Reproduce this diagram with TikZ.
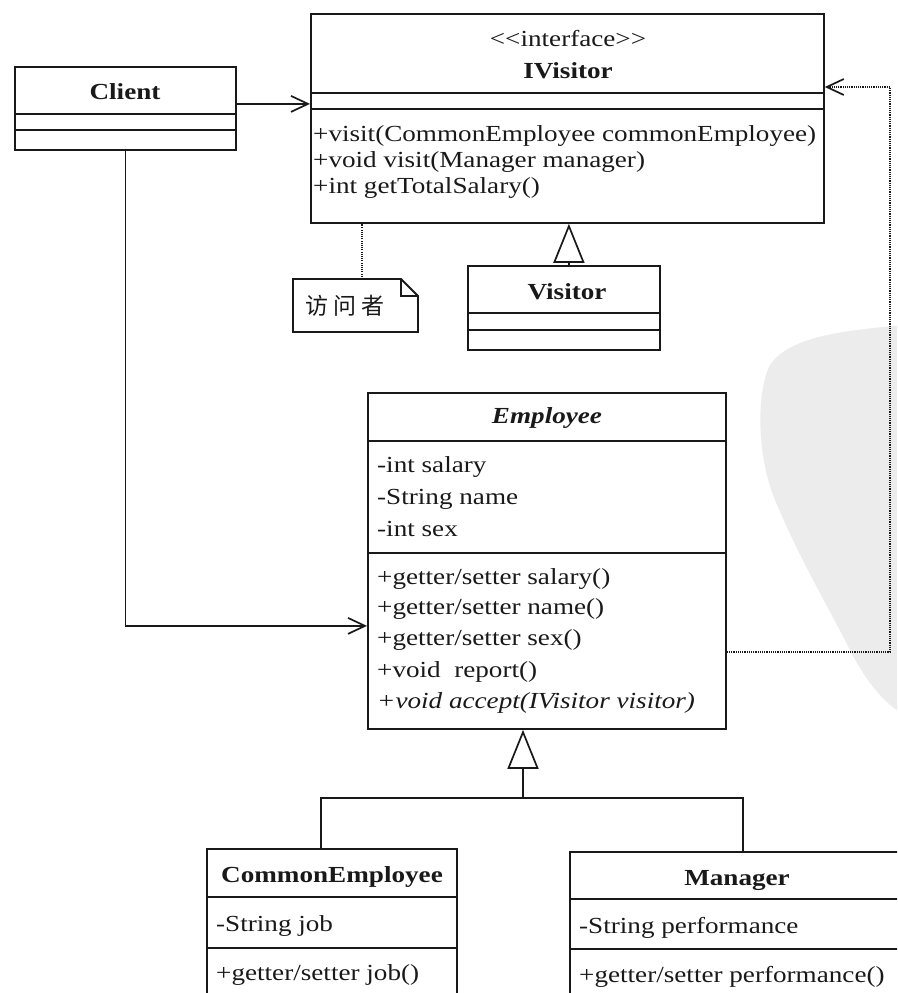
\documentclass[tikz,border=0pt]{standalone}
\usepackage{fontspec}
\setmainfont[FakeStretch=1.18]{Liberation Serif}
\newfontfamily\cjk{Noto Sans CJK SC}
\usetikzlibrary{arrows.meta}
\definecolor{wmark}{RGB}{236,236,237}
\definecolor{ink}{RGB}{25,25,25}
\tikzset{
  box/.style={draw=ink, line width=1.8pt, anchor=north west, inner sep=0pt},
  sepl/.style={draw=ink, line width=1.8pt},
  txt/.style={anchor=base west, inner sep=0pt, text=ink, font=\fontsize{23}{26}\selectfont},
  ttl/.style={anchor=base, inner sep=0pt, text=ink, font=\fontsize{23}{26}\selectfont\bfseries},
  assoc/.style={draw=ink, line width=1.7pt, -{Straight Barb[length=17pt,width=16pt,line width=1.7pt]}},
  depend/.style={draw=ink, line width=1.6pt, dash pattern=on 1.1pt off 1.1pt, -{Straight Barb[length=17pt,width=16pt,line width=1.7pt,sep=0pt]}},
  inherit/.style={draw=ink, line width=1.7pt, -{Triangle[open,length=39pt,width=31pt,line width=1.7pt,fill=white]}},
  noteline/.style={draw=ink, line width=1.5pt, dash pattern=on 1.1pt off 1.1pt}
}
\begin{document}
\begin{tikzpicture}[x=1pt,y=-1pt]
\useasboundingbox (0,0) rectangle (897,993);
\begin{scope}
\clip (0,0) rectangle (897,993);
% watermark blob
\fill[wmark] (905,325) .. controls (850,330) and (790,335) .. (770,365)
  .. controls (755,395) and (758,460) .. (775,500)
  .. controls (800,560) and (830,610) .. (850,650)
  .. controls (865,680) and (885,705) .. (905,715) -- cycle;

% ---- Client
\node[box, minimum width=221pt, minimum height=83pt] (client) at (14,66) {};
\draw[sepl] (client.west |- 0,114) -- (client.east |- 0,114);
\draw[sepl] (client.west |- 0,130) -- (client.east |- 0,130);
\node[ttl] (clientT) at (125,99) {Client};

% ---- IVisitor
\node[box, minimum width=513pt, minimum height=209pt] (ivis) at (310,13) {};
\draw[sepl] (ivis.west |- 0,93) -- (ivis.east |- 0,93);
\draw[sepl] (ivis.west |- 0,109) -- (ivis.east |- 0,109);
\node[ttl, font=\fontsize{23}{26}\selectfont] (ivisS) at (568,46) {<\kern0pt<interface>\kern0pt>};
\node[ttl] (ivisT) at (568,78) {IVisitor};
\node[txt] (ivm1) at (313,141) {+visit(CommonEmployee commonEmployee)};
\node[txt] (ivm2) at (313,167) {+void visit(Manager manager)};
\node[txt] (ivm3) at (313,193) {+int getTotalSalary()};

% ---- Visitor
\node[box, minimum width=192pt, minimum height=84pt] (vis) at (467,265) {};
\draw[sepl] (vis.west |- 0,313) -- (vis.east |- 0,313);
\draw[sepl] (vis.west |- 0,330) -- (vis.east |- 0,330);
\node[ttl] (visT) at (567,299) {Visitor};

% ---- Note
\coordinate (note) at (355.5,279);
\draw[draw=ink, line width=1.8pt, fill=white] (293,279) -- (401,279) -- (418,296) -- (418,332) -- (293,332) -- cycle;
\draw[draw=ink, line width=1.5pt] (401,279) -- (401,296) -- (418,296);
\node[inner sep=0pt, text=ink, font=\cjk\fontsize{23}{26}\selectfont] (noteT) at (345,306) {访\hspace{5pt}问\hspace{5pt}者};

% ---- Employee
\node[box, minimum width=358pt, minimum height=336pt] (emp) at (367,392) {};
\draw[sepl] (emp.west |- 0,441) -- (emp.east |- 0,441);
\draw[sepl] (emp.west |- 0,553) -- (emp.east |- 0,553);
\node[ttl, font=\fontsize{23}{26}\selectfont\bfseries\itshape] (empT) at (547,423) {Employee};
\node[txt] (ea1) at (377,472) {-int salary};
\node[txt] (ea2) at (377,504) {-String name};
\node[txt] (ea3) at (377,536) {-int sex};
\node[txt] (em1) at (377,584) {+getter/setter salary()};
\node[txt] (em2) at (377,614) {+getter/setter name()};
\node[txt] (em3) at (377,645) {+getter/setter sex()};
\node[txt] (em4) at (377,677) {+void\ \ report()};
\node[txt, font=\fontsize{23}{26}\selectfont\itshape] (em5) at (377,708) {+void accept(IVisitor visitor)};

% ---- CommonEmployee
\node[box, minimum width=250pt, minimum height=170pt] (ce) at (206,848) {};
\draw[sepl] (ce.west |- 0,897) -- (ce.east |- 0,897);
\draw[sepl] (ce.west |- 0,948) -- (ce.east |- 0,948);
\node[ttl] (ceT) at (332,882) {CommonEmployee};
\node[txt] (cea) at (216,931) {-String job};
\node[txt] (cem) at (216,980) {+getter/setter job()};

% ---- Manager
\node[box, minimum width=336pt, minimum height=170pt] (mgr) at (569,851) {};
\draw[sepl] (mgr.west |- 0,899) -- (mgr.east |- 0,899);
\draw[sepl] (mgr.west |- 0,949) -- (mgr.east |- 0,949);
\node[ttl] (mgrT) at (737,885) {Manager};
\node[txt] (mgra) at (579,933) {-String performance};
\node[txt] (mgrm) at (579,982) {+getter/setter performance()};

% ---- Connectors
\draw[assoc] ([yshift=4.5pt]client.east) -- ([yshift=4.5pt]client.east -| ivis.west);
\draw[assoc] (client.south) |- ([yshift=-65pt]emp.west);
\coordinate (depcorner) at (890,87);
\draw[depend] ([yshift=-91pt]emp.east) -| (depcorner) -- (depcorner -| ivis.east);
\draw[inherit] ([xshift=5pt]vis.north) -- ([xshift=5pt]vis.north |- ivis.south);
\draw[noteline] ([xshift=6.5pt]note) -- ([xshift=6.5pt]note |- ivis.south);
\coordinate (genjoin) at (523,798);
\draw[inherit] (genjoin) -- (genjoin |- emp.south);
\draw[draw=ink, line width=1.7pt] ([xshift=-11pt]ce.north) |- (genjoin) -| ([xshift=5pt]mgr.north);
\end{scope}
\end{tikzpicture}
\end{document}
